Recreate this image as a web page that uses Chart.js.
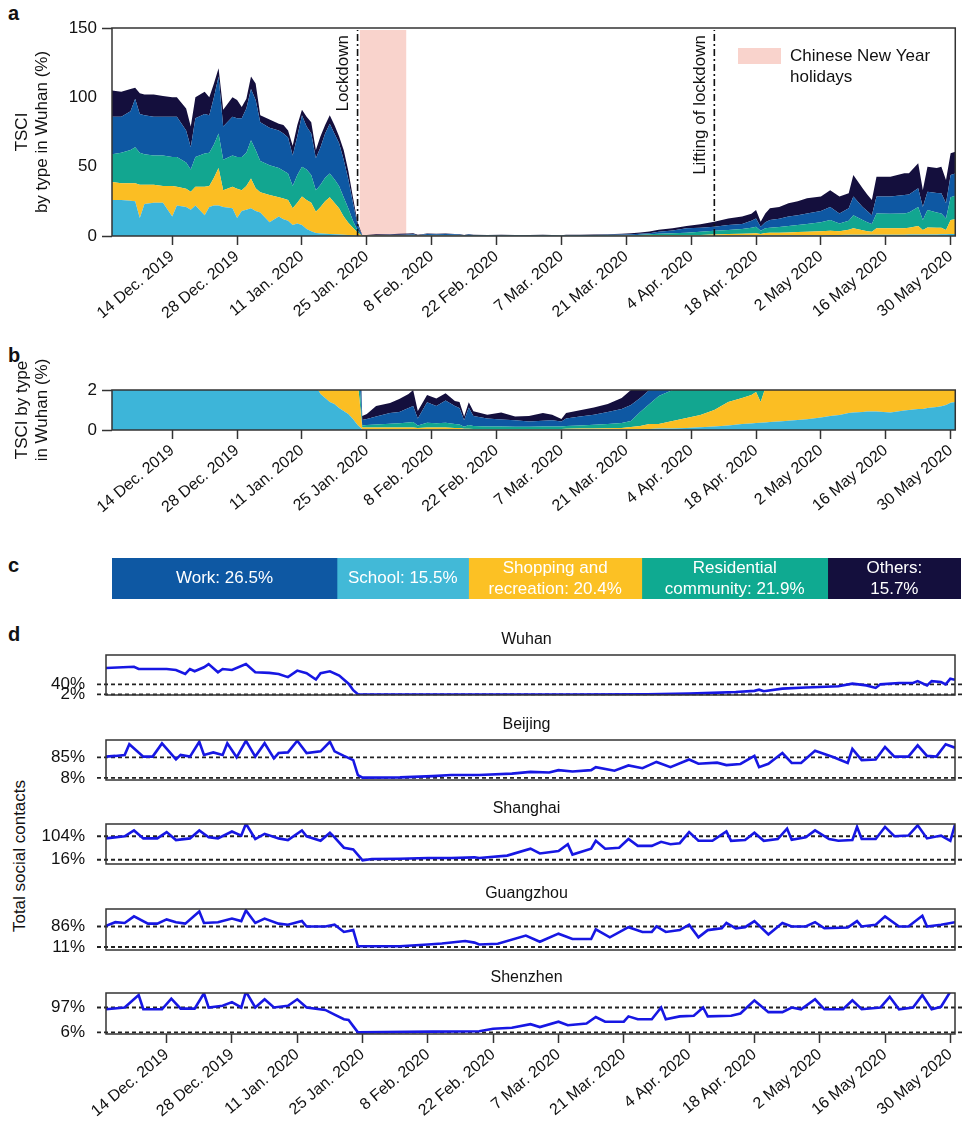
<!DOCTYPE html>
<html>
<head>
<meta charset="utf-8">
<script src="https://cdn.jsdelivr.net/npm/chart.js@4.4.0/dist/chart.umd.min.js"></script>
<style>
  body { margin: 0; background: #fff; width: 965px; height: 1127px; position: relative; overflow: hidden;
         font-family: 'Liberation Sans', Arial, sans-serif; color: #111; }
  canvas { position: absolute; left: 0; }
  .tag { position: absolute; left: 8px; font: bold 20px 'Liberation Sans', Arial, sans-serif; line-height: 20px; }
  .ytitle { position: absolute; width: 240px; text-align: center; font-size: 17px; line-height: 20px;
            transform: rotate(-90deg); }
</style>
</head>
<body>
<div class="tag" style="top:3px">a</div>
<div class="tag" style="top:345px">b</div>
<div class="tag" style="top:555px">c</div>
<div class="tag" style="top:624px">d</div>
<div class="ytitle" style="left:-100px; top:846px">Total social contacts</div>

<canvas id="chartA" width="965" height="340" style="top:0px"></canvas>
<canvas id="chartB" width="965" height="190" style="top:340px"></canvas>
<canvas id="chartC" width="965" height="70" style="top:540px"></canvas>
<canvas id="wuhan" width="965" height="90" style="top:620px"></canvas>
<canvas id="beijing" width="965" height="80" style="top:710px"></canvas>
<canvas id="shanghai" width="965" height="80" style="top:790px"></canvas>
<canvas id="guangzhou" width="965" height="90" style="top:870px"></canvas>
<canvas id="shenzhen" width="965" height="167" style="top:960px"></canvas>

<script>
// x values are days since 1 Dec. 2019

// panels a and b: TSCI by contact type in Wuhan (%)
const tsciDays = [0, 2, 4, 5, 6, 7, 9, 11, 13, 14, 16, 17, 18, 20, 21, 22, 23, 24, 26, 27, 28, 29, 30, 31, 32, 34, 36, 37, 38, 39, 40, 41, 42, 43, 44, 45, 46, 47, 48, 49, 50, 51, 52, 53,
  54, 55, 57, 60, 62, 64, 65, 66, 68, 70, 72, 74, 75, 76, 77, 78, 81, 84, 87, 90, 93, 95, 97, 98, 101, 104, 107, 110, 112, 114,
  116, 118, 121, 124, 127, 130, 133, 136, 138, 139, 140, 141, 142, 144, 146, 148, 150, 153, 155, 157, 159, 160, 162, 163, 164, 165,
  168, 171, 172, 174, 175, 176, 178, 179, 180, 181, 182];
const schoolTSCI = [26, 26, 25.5, 25, 13, 23, 24, 24, 14, 22, 21, 19, 22, 15, 21, 22, 22, 21, 20, 13, 18, 19, 20, 18, 17, 10, 14, 12, 11, 8, 9, 8, 5, 3.5, 2.2, 1.8, 1.6, 1.4, 1.3, 1.1, 0.95, 0.8, 0.55, 0.25,
  0.04, 0.02, 0.02, 0.02, 0.02, 0.02, 0.02, 0.02, 0.02, 0.02, 0.02, 0.02, 0.02, 0.02, 0.02, 0.02, 0.02, 0.02, 0.02, 0.02, 0.02, 0.02, 0.02, 0.02, 0.02, 0.02, 0.02, 0.02, 0.03, 0.04,
  0.05, 0.07, 0.08, 0.1, 0.14, 0.17, 0.22, 0.3, 0.33, 0.35, 0.36, 0.38, 0.4, 0.42, 0.46, 0.5, 0.54, 0.62, 0.7, 0.75, 0.85, 0.88, 0.9, 0.92, 0.93, 0.92,
  0.88, 0.98, 1.0, 1.05, 1.05, 1.1, 1.15, 1.19, 1.25, 1.36, 1.4];
const shoppingTSCI = [13, 12, 12.5, 13, 24, 14, 13, 12, 22, 13.5, 13, 13, 13.5, 20.5, 15, 20, 27, 12, 15.5, 21, 15, 17, 21.5, 16.5, 14.5, 19.5, 14, 15, 15, 12, 15, 20.5, 21, 20.5, 15.3, 19.2, 23.4, 26.6, 22.7, 18.9, 13.05, 8.7, 5.45, 2.25,
  0.08, 0.1, 0.1, 0.1, 0.1, 0.1, 0.1, 0.08, 0.1, 0.1, 0.1, 0.08, 0.08, 0.04, 0.04, 0.03, 0.03, 0.03, 0.03, 0.03, 0.03, 0.03, 0.03, 0.04, 0.05, 0.06, 0.07, 0.08, 0.12, 0.16,
  0.25, 0.23, 0.37, 0.5, 0.61, 0.83, 1.18, 1.3, 1.42, 1.55, 1.04, 1.72, 1.9, 1.98, 2.04, 2.3, 2.46, 2.88, 3.1, 2.75, 3.65, 4.62, 3.3, 2.58, 2.07, 4.58,
  4.62, 4.52, 5, 6.15, 3.25, 5.1, 4.85, 4.81, 3.05, 10.14, 10.6];
const residentialTSCI = [20, 22, 24, 26, 23, 22, 21, 22, 21, 21.5, 19, 16, 21.5, 24, 24, 24, 25, 22, 22.5, 23, 24, 24, 27.5, 27.5, 22.5, 21.5, 21, 20, 19, 16, 20, 21.5, 22, 20, 15.5, 16, 17, 17, 17, 16, 14, 10.5, 5, 1.5,
  0.1, 0.13, 0.16, 0.19, 0.22, 0.26, 0.28, 0.12, 0.24, 0.22, 0.24, 0.2, 0.18, 0.1, 0.19, 0.15, 0.13, 0.12, 0.11, 0.11, 0.12, 0.13, 0.13, 0.14, 0.15, 0.18, 0.21, 0.25, 0.3, 0.7,
  1.0, 1.4, 1.55, 1.8, 2.35, 2.8, 2.9, 3.4, 4.25, 4.8, 2.4, 3.4, 3.7, 4.1, 4.7, 5.2, 5.7, 6.5, 7.7, 5.5, 6.5, 9.5, 7.3, 6.5, 5.7, 10.8,
  10.5, 10.8, 11, 13.8, 7.2, 12.6, 11, 10.3, 8.4, 16.5, 17];
const workTSCI = [27, 26, 28, 35, 28, 28, 28, 28, 29, 29, 23, 16, 28, 28.5, 27, 34, 41, 24, 28, 28, 28, 32, 37, 36, 28, 27, 27, 27, 26, 22, 28, 37, 31, 30, 23, 27, 32, 36, 33, 31, 27, 21, 13, 4,
  0.28, 0.3, 0.39, 0.54, 0.56, 0.72, 0.8, 0.36, 1.03, 0.86, 1.12, 0.9, 0.82, 0.33, 0.87, 0.5, 0.4, 0.35, 0.33, 0.27, 0.29, 0.31, 0.24, 0.38, 0.45, 0.5, 0.6, 0.7, 0.8, 0.7,
  0.7, 1.3, 2.0, 3.1, 2.9, 2.9, 3.7, 3.7, 5, 6, 2.9, 4.5, 5.5, 6, 6.8, 7, 7.6, 8, 9.5, 7.3, 9, 13.4, 9.5, 8, 6.3, 12.1,
  12.5, 13.3, 13, 13.4, 9.5, 13.2, 14, 14.5, 10.9, 16, 16];
const othersTSCI = [19, 18, 16, 8, 15, 15, 16, 15, 14, 14, 16, 15, 15, 16, 13, 10, 6, 12, 14, 13, 8, 7, 9, 12, 5, 6, 5, 6, 5, 7, 8, 4, 7, 8, 6, 8, 6, 6, 6, 5, 7, 6, 4, 2,
  0.2, 0.25, 0.53, 0.5, 0.65, 0.7, 0.8, 0.37, 0.36, 0.37, 0.36, 0.25, 0.3, 0.18, 0.27, 0.24, 0.18, 0.36, 0.18, 0.27, 0.39, 0.27, 0.13, 0.27, 0.32, 0.36, 0.4, 0.55, 0.75, 1.0,
  1.2, 1.5, 1.5, 1.7, 2.5, 3.6, 4.7, 5.3, 5, 6.1, 3.6, 6.3, 8.5, 8.5, 9.6, 10, 10.9, 10.4, 12, 12.1, 10.8, 15.6, 13.4, 12, 11, 14.4,
  14.3, 15.6, 15.2, 18, 12.2, 18, 18, 19.2, 16.8, 15.6, 15.8];

const tickDays = [13, 27, 41, 55, 69, 83, 97, 111, 125, 139, 153, 167, 181];
const tickLabels = ['14 Dec. 2019', '28 Dec. 2019', '11 Jan. 2020', '25 Jan. 2020', '8 Feb. 2020', '22 Feb. 2020',
  '7 Mar. 2020', '21 Mar. 2020', '4 Apr. 2020', '18 Apr. 2020', '2 May 2020', '16 May 2020', '30 May 2020'];

const lockdownDay = 53;
const liftDay = 130;
const holidayStart = 53.5;
const holidayEnd = 63.5;

// panel c: share of contacts by type
const typeShares = [26.5, 15.5, 20.4, 21.9, 15.7];
const typeLines = [['Work: %'], ['School: %'], ['Shopping and', 'recreation: %'], ['Residential', 'community: %'], ['Others:', '%']];

// panel d: total social contacts (%)
const wuhanDays = [0, 6, 7, 13, 15, 17, 18, 19, 21, 22, 24, 25, 27, 30, 32, 35, 37, 39, 41, 43, 45, 46, 48, 50, 52, 53, 54, 60, 80, 100,
  116, 125, 130, 135, 139, 140, 141, 145, 150, 153, 157, 160, 163, 165, 166, 170, 173, 174, 176, 177, 179, 180, 181, 182];
const wuhanTotal = [101, 106, 97.6, 97.6, 94, 79, 97.6, 89, 104, 116, 85, 97.6, 94, 116, 85, 83, 79, 67, 91.5, 81.7, 58, 81.7, 89, 73, 42.5, 18, 3, 2, 1.5, 2,
  3, 5, 8, 11, 15.5, 20, 14, 24, 28, 30, 32.6, 42.5, 36, 26.5, 40, 45, 45, 52, 36, 52, 48.6, 40, 61, 57];
const wuhanRefs = [40, 2];

const beijingDays = [0, 2, 4, 5, 8, 10, 12, 15, 16, 18, 20, 21, 23, 25, 26, 28, 30, 32, 34, 36, 37, 39, 41, 43, 46, 48, 49, 51, 53, 54, 55, 63, 70, 74, 80,
  87, 91, 95, 97, 100, 104, 105, 109, 112, 115, 118, 121, 125, 127, 131, 133, 136, 139, 140, 142, 145, 147, 149, 152, 156, 159, 160, 162, 165, 167, 169, 172, 174, 176, 178, 180, 182];
const beijingTotal = [87.7, 90.3, 94, 134, 87.7, 87.7, 137, 77, 94, 87.7, 143.5, 94, 103.6, 94, 138, 85, 147, 87.7, 138, 81, 101, 103.6, 147, 101, 107.6, 143.5, 107.6, 90.3, 74.4, 18.6, 9, 10, 14.6, 18.6, 18.6,
  24, 30.6, 28, 37, 32, 37, 48, 34.6, 54.5, 44, 67.8, 48, 77, 61, 65, 56, 60, 90.3, 48, 61, 101, 63.8, 63.8, 110, 85, 63.8, 117, 74.4, 77, 123.5, 87.7, 87.7, 130, 90.3, 87.7, 134, 121];
const beijingRefs = [85, 8];

const shanghaiDays = [0, 4, 6, 8, 11, 13, 15, 18, 20, 22, 24, 27, 29, 30, 32, 34, 37, 39, 42, 43, 46, 48, 49, 51, 53, 55, 57, 63, 69, 74, 79, 80,
  86, 91, 93, 97, 99, 100, 104, 105, 107, 110, 112, 114, 117, 119, 121, 123, 125, 127, 130, 133, 134, 137, 139, 141, 144, 146, 147, 150,
  152, 155, 157, 160, 161, 162, 165, 167, 169, 172, 174, 176, 179, 181, 182];
const shanghaiTotal = [96, 104, 126, 96, 96, 119.5, 89.8, 96, 126, 100, 96, 122, 106.6, 151, 93.6, 113, 96, 89.8, 126, 104, 87, 117, 100, 61, 54.8, 14, 18.6, 19.9, 22.5, 22.5, 25, 22.5,
  31.5, 57.4, 39.3, 48.4, 74, 35.4, 57.4, 87, 57.4, 61, 93.6, 67.8, 67.8, 83.3, 74, 78, 119.5, 87, 87, 122, 87, 89.8, 117, 87, 93.6, 132.5, 91, 100,
  126, 93.6, 87, 89.8, 139, 93.6, 93.6, 139, 104, 106.6, 145, 96, 106.6, 87, 148];
const shanghaiRefs = [104, 16];

const guangzhouDays = [0, 2, 4, 6, 9, 11, 13, 15, 17, 20, 21, 24, 27, 29, 30, 32, 34, 37, 39, 42, 43, 47, 49, 51, 53, 54, 55, 63, 69, 72, 77, 79, 80,
  84, 90, 93, 97, 100, 104, 105, 108, 112, 115, 117, 118, 120, 123, 125, 127, 129, 132, 133, 135, 137, 139, 142, 145, 147, 150,
  152, 154, 159, 161, 162, 165, 167, 170, 172, 175, 176, 179, 182];
const guangzhouTotal = [88.6, 101.8, 99, 123, 96.5, 96.5, 112, 101.8, 96.5, 141, 99, 101.8, 115, 105.8, 145, 99, 115, 96.5, 92.6, 105.8, 86, 86, 92.6, 66, 72.8, 13.6, 13.6, 13.6, 20, 24, 33, 27, 20,
  22.8, 53, 30, 59.7, 40, 40, 75.5, 46.5, 83.4, 66, 66, 86, 66, 72.8, 92.6, 46.5, 72.8, 79.4, 99, 79.4, 83.4, 105.8, 57, 99, 86, 86,
  101.8, 79.4, 82, 105.8, 86, 92.6, 123, 86, 86, 125.5, 86, 92.6, 101.8];
const guangzhouRefs = [86, 11];

const shenzhenDays = [0, 4, 7, 8, 12, 14, 16, 19, 21, 22, 25, 27, 29, 30, 32, 34, 36, 39, 41, 43, 47, 49, 51, 52, 54, 70, 80,
  83, 87, 91, 93, 97, 99, 103, 105, 107, 111, 112, 114, 117, 119, 120, 123, 126, 128, 129, 134, 136, 139, 142, 145, 147, 149,
  152, 154, 158, 160, 162, 166, 168, 170, 173, 175, 177, 179, 181];
const shenzhenTotal = [90.5, 97, 142.5, 90.5, 90.5, 129.5, 93, 93, 149, 97, 103.5, 116.5, 97, 155, 97, 127, 97, 103.5, 127, 97, 88, 71, 54, 51.5, 6, 8.6, 10,
  19, 23, 36, 25.5, 45, 32, 38.5, 62, 45, 45, 64.5, 54, 54, 97, 54, 64.5, 67, 97, 64.5, 67, 75, 123, 80, 80, 97, 90.5,
  127, 90.5, 90.5, 123, 90.5, 97, 136, 90.5, 97, 142.5, 90.5, 99.6, 155];
const shenzhenRefs = [97, 6];

const typeColors = {
  school: '#3db5d9',
  shopping: '#fbbe23',
  residential: '#12a690',
  work: '#0e58a3',
  others: '#140f3d'
};
const lineBlue = '#1717e3';
const frameColor = '#333';

Chart.defaults.font.family = "'Liberation Sans', Arial, sans-serif";
Chart.defaults.color = '#111';
Chart.defaults.animation = false;

const frame = {
  id: 'frame',
  afterDatasetsDraw(chart) {
    const { ctx, chartArea: a } = chart;
    ctx.save();
    ctx.strokeStyle = frameColor;
    ctx.lineWidth = 1.5;
    ctx.strokeRect(a.left, a.top, a.right - a.left, a.bottom - a.top);
    ctx.restore();
  }
};

// shaded holidays, dash-dot event lines and the little legend of panel a
const lockdownMarks = {
  id: 'lockdownMarks',
  beforeDatasetsDraw(chart) {
    const { ctx, chartArea: a, scales: { x } } = chart;
    const x0 = x.getPixelForValue(holidayStart);
    const x1 = x.getPixelForValue(holidayEnd);
    ctx.save();
    ctx.fillStyle = '#f9d3cc';
    ctx.fillRect(x0, a.top + 2, x1 - x0, a.bottom - a.top - 2);
    ctx.restore();
  },
  afterDatasetsDraw(chart) {
    const { ctx, chartArea: a, scales: { x } } = chart;
    ctx.save();
    [[lockdownDay, 'Lockdown'], [liftDay, 'Lifting of lockdown']].forEach(([day, txt]) => {
      const px = x.getPixelForValue(day);
      ctx.strokeStyle = '#111';
      ctx.lineWidth = 1.6;
      ctx.setLineDash([7, 3, 2, 3]);
      ctx.beginPath();
      ctx.moveTo(px, a.bottom);
      ctx.lineTo(px, a.top + 2);
      ctx.stroke();
      ctx.save();
      ctx.translate(px - 14, a.top + 7);
      ctx.rotate(-Math.PI / 2);
      ctx.fillStyle = '#111';
      ctx.font = "17px 'Liberation Sans', Arial, sans-serif";
      ctx.textAlign = 'right';
      ctx.textBaseline = 'middle';
      ctx.fillText(txt, 0, 0);
      ctx.restore();
    });
    ctx.setLineDash([]);
    ctx.fillStyle = '#f9d3cc';
    ctx.fillRect(738, 48, 43, 16);
    ctx.fillStyle = '#111';
    ctx.font = "17px 'Liberation Sans', Arial, sans-serif";
    ctx.textBaseline = 'middle';
    ctx.fillText('Chinese New Year', 790, 56);
    ctx.fillText('holidays', 790, 77);
    ctx.restore();
  }
};

function dateAxis(height) {
  return {
    type: 'linear',
    min: 0,
    max: 182,
    afterBuildTicks: s => { s.ticks = tickDays.map(v => ({ value: v })); },
    afterFit: s => { s.height = height; },
    border: { display: false },
    grid: { drawOnChartArea: false, drawTicks: true, tickLength: 9, tickColor: frameColor, tickWidth: 1.5 },
    ticks: {
      autoSkip: false, minRotation: 40, maxRotation: 40, padding: 2,
      font: { size: 16 },
      callback: (v, i) => tickLabels[i]
    }
  };
}

function tsciDatasets() {
  const series = [
    [schoolTSCI, typeColors.school],
    [shoppingTSCI, typeColors.shopping],
    [residentialTSCI, typeColors.residential],
    [workTSCI, typeColors.work],
    [othersTSCI, typeColors.others]
  ];
  return series.map(([vals, color], k) => ({
    data: tsciDays.map((d, i) => ({ x: d, y: vals[i] })),
    backgroundColor: color,
    borderColor: color,
    borderWidth: 0,
    pointRadius: 0,
    tension: 0,
    fill: k === 0 ? 'origin' : '-1'
  }));
}

function tsciChart(id, yMax, title, topPad, xHeight, edgeTicks) {
  return new Chart(document.getElementById(id), {
    type: 'line',
    data: { datasets: tsciDatasets() },
    options: {
      responsive: false,
      layout: { padding: { top: topPad, right: 4, left: 0, bottom: 0 } },
      plugins: { legend: { display: false }, tooltip: { enabled: false } },
      scales: {
        x: dateAxis(xHeight),
        y: {
          stacked: true,
          min: 0,
          max: yMax,
          afterFit: s => { s.width = 112; },
          border: { display: false },
          grid: {
            drawOnChartArea: false, drawTicks: true, tickLength: 10, tickWidth: 1.5,
            tickColor: c => (!edgeTicks || (c.tick && (c.tick.value === 0 || c.tick.value === yMax))) ? frameColor : 'rgba(0,0,0,0)'
          },
          ticks: { stepSize: yMax === 2 ? 2 : 50, padding: 5, font: { size: 17 } },
          title: { display: true, text: title, font: { size: 17 }, padding: { top: 12, bottom: 0 } }
        }
      }
    },
    plugins: id === 'chartA' ? [lockdownMarks, frame] : [frame]
  });
}

tsciChart('chartA', 150, ['TSCI', 'by type in Wuhan (%)'], 28, 104, true);
tsciChart('chartB', 2, ['TSCI by type', 'in Wuhan (%)'], 50, 100, true);

// panel c
const shareLabels = {
  id: 'shareLabels',
  afterDatasetsDraw(chart) {
    const { ctx } = chart;
    ctx.save();
    ctx.fillStyle = '#fff';
    ctx.font = "17px 'Liberation Sans', Arial, sans-serif";
    ctx.textAlign = 'center';
    ctx.textBaseline = 'middle';
    chart.data.datasets.forEach((ds, i) => {
      const bar = chart.getDatasetMeta(i).data[0];
      const cx = (bar.x + bar.base) / 2;
      const lines = typeLines[i].map(t => t.replace('%', typeShares[i] + '%'));
      const y0 = bar.y - (lines.length - 1) * 10.5;
      lines.forEach((t, j) => ctx.fillText(t, cx, y0 + j * 21));
    });
    ctx.restore();
  }
};

const shareColors = [typeColors.work, '#42b9d7', '#fcc124', '#0faa91', typeColors.others];
new Chart(document.getElementById('chartC'), {
  type: 'bar',
  data: {
    labels: ['share'],
    datasets: typeShares.map((v, i) => ({
      data: [v],
      backgroundColor: shareColors[i],
      borderWidth: 0,
      barPercentage: 1,
      categoryPercentage: 1
    }))
  },
  options: {
    responsive: false,
    indexAxis: 'y',
    layout: { padding: { left: 112, right: 4, top: 18, bottom: 11 } },
    plugins: { legend: { display: false }, tooltip: { enabled: false } },
    scales: {
      x: { stacked: true, min: 0, max: 100, display: false },
      y: { stacked: true, display: false }
    }
  },
  plugins: [shareLabels]
});

// panel d
const refLines = {
  id: 'refLines',
  beforeDatasetsDraw(chart, args, opts) {
    const { ctx, chartArea: a, scales: { y } } = chart;
    ctx.save();
    ctx.strokeStyle = '#222';
    ctx.lineWidth = 1.8;
    ctx.setLineDash([4, 3]);
    opts.values.forEach(v => {
      const py = y.getPixelForValue(v);
      ctx.beginPath();
      ctx.moveTo(a.left - 9, py);
      ctx.lineTo(a.right + 8, py);
      ctx.stroke();
    });
    ctx.restore();
  }
};

const cityName = {
  id: 'cityName',
  afterDraw(chart, args, opts) {
    const { ctx, chartArea: a } = chart;
    ctx.save();
    ctx.fillStyle = '#111';
    ctx.font = "16px 'Liberation Sans', Arial, sans-serif";
    ctx.textAlign = 'center';
    ctx.textBaseline = 'middle';
    ctx.fillText(opts.text, (a.left + a.right) / 2 - 4, a.top - 15);
    ctx.restore();
  }
};

function cityChart(id, name, days, values, refs, pad, xHeight) {
  return new Chart(document.getElementById(id), {
    type: 'line',
    data: {
      datasets: [{
        data: days.map((d, i) => ({ x: d, y: values[i] })),
        borderColor: lineBlue,
        borderWidth: 2.6,
        pointRadius: 0,
        tension: 0,
        fill: false
      }]
    },
    options: {
      responsive: false,
      layout: { padding: { top: pad[0], bottom: pad[1], left: 0, right: 10 } },
      plugins: {
        legend: { display: false }, tooltip: { enabled: false },
        refLines: { values: refs },
        cityName: { text: name }
      },
      scales: {
        x: xHeight ? dateAxis(xHeight) : { type: 'linear', min: 0, max: 182, display: false },
        y: {
          min: 0,
          max: 150,
          afterBuildTicks: s => { s.ticks = refs.slice().sort((p, q) => p - q).map(v => ({ value: v })); },
          afterFit: s => { s.width = 106; s.paddingTop = 0; s.paddingBottom = 0; },
          border: { display: false },
          grid: { drawOnChartArea: false, drawTicks: true, tickLength: 8, tickColor: 'rgba(0,0,0,0)' },
          ticks: { autoSkip: false, padding: 13, font: { size: 17 }, callback: v => v + '%' }
        }
      }
    },
    plugins: [refLines, frame, cityName]
  });
}

cityChart('wuhan', 'Wuhan', wuhanDays, wuhanTotal, wuhanRefs, [35, 15], 0);
cityChart('beijing', 'Beijing', beijingDays, beijingTotal, beijingRefs, [30, 10], 0);
cityChart('shanghai', 'Shanghai', shanghaiDays, shanghaiTotal, shanghaiRefs, [34, 6], 0);
cityChart('guangzhou', 'Guangzhou', guangzhouDays, guangzhouTotal, guangzhouRefs, [39, 10], 0);
cityChart('shenzhen', 'Shenzhen', shenzhenDays, shenzhenTotal, shenzhenRefs, [33, 0], 93);
</script>
</body>
</html>
